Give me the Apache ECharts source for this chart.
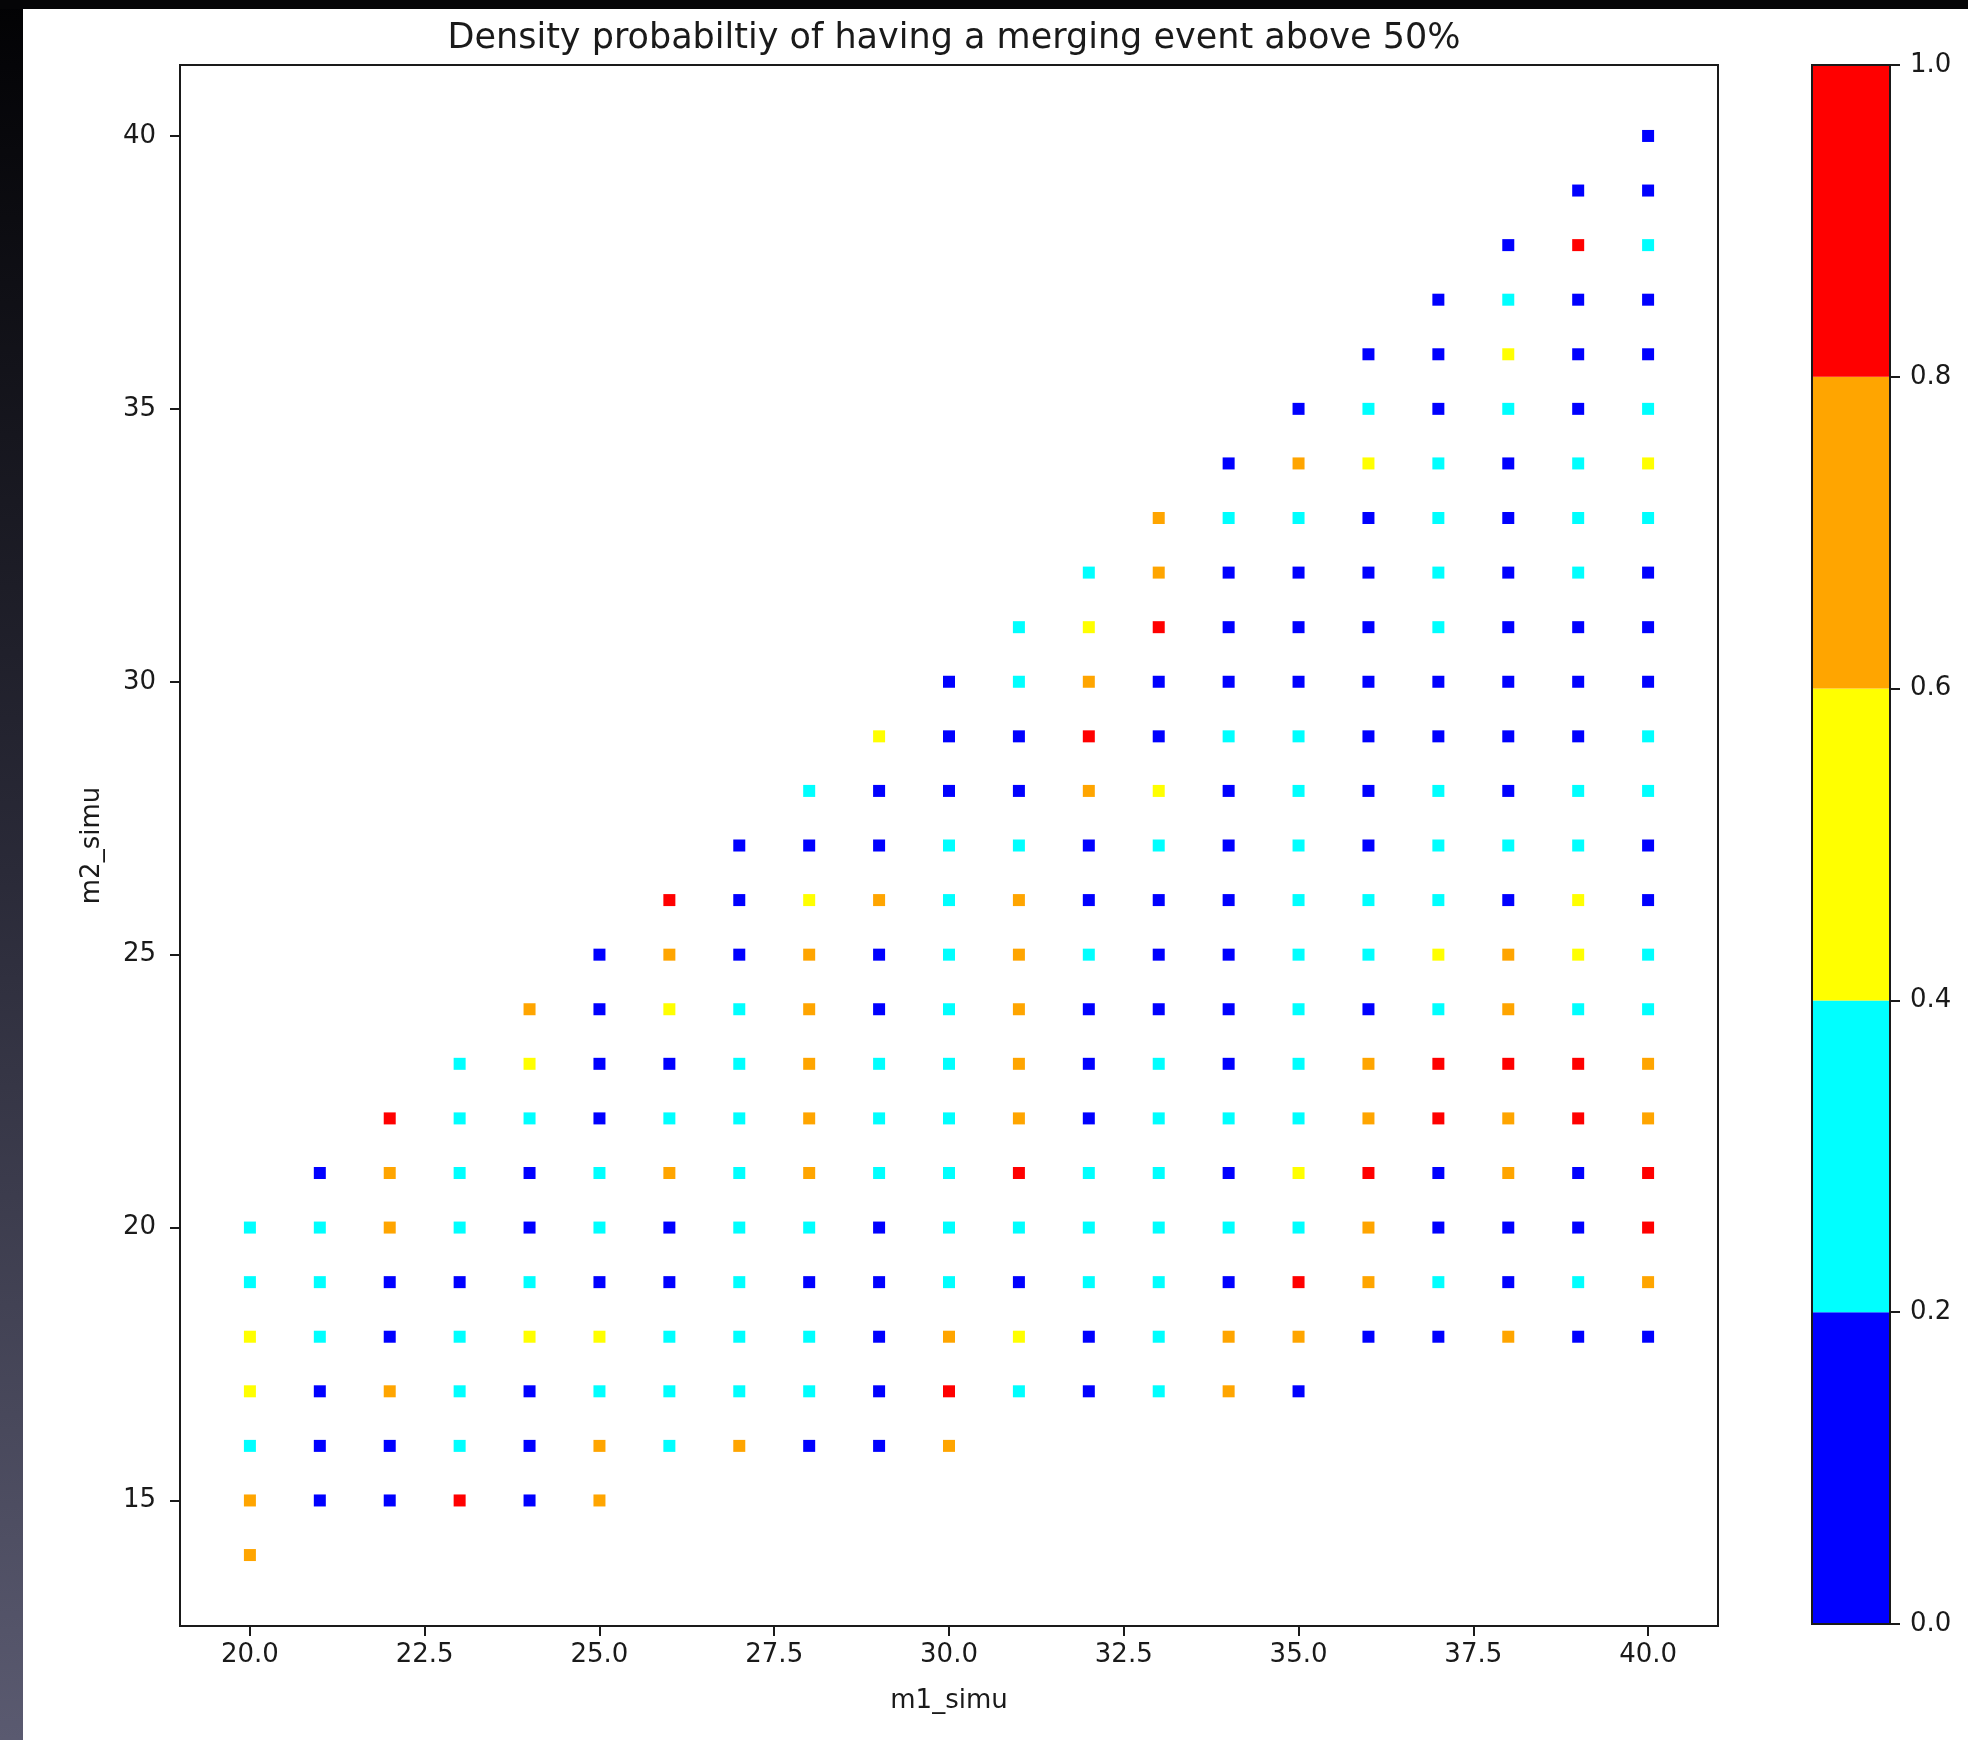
<!DOCTYPE html>
<html>
<head>
	<meta charset="utf-8">
	<title>merging event density</title>
	<style>
		html,body{margin:0;padding:0;background:#fff;}
		#main{width:1968px;height:1740px;}
	</style>
</head>
<body>
<div id="main"></div>

<script type="text/javascript" src="https://cdn.jsdelivr.net/npm/echarts@6/dist/echarts.min.js"></script>
<script type="text/javascript">
	// m1 columns and the first m2 of each column (each column runs up to m2 = m1)
	var m1Values=[20,21,22,23,24,25,26,27,28,29,30,31,32,33,34,35,36,37,38,39,40];
	var m2Start=[14,15,15,15,15,15,16,16,16,16,16,17,17,17,17,17,18,18,18,18,18];

	// probability per column, listed from m2Start upward
	var d20=[0.72,0.70,0.30,0.45,0.50,0.30,0.22];
	var d21=[0.08,0.10,0.10,0.25,0.25,0.30,0.05];
	var d22=[0.10,0.10,0.70,0.05,0.10,0.68,0.70,0.90];
	var d23=[0.85,0.25,0.30,0.30,0.10,0.35,0.35,0.35,0.30];
	var d24=[0.15,0.10,0.10,0.45,0.25,0.05,0.10,0.35,0.50,0.75];
	var d25=[0.75,0.70,0.35,0.50,0.10,0.30,0.35,0.10,0.10,0.10,0.12];
	var d26=[0.35,0.28,0.35,0.10,0.10,0.70,0.30,0.12,0.50,0.70,0.90];
	var d27=[0.70,0.25,0.30,0.30,0.30,0.33,0.30,0.35,0.35,0.05,0.10,0.10];
	var d28=[0.10,0.30,0.35,0.10,0.30,0.65,0.75,0.75,0.72,0.70,0.50,0.10,0.30];
	var d29=[0.05,0.12,0.10,0.10,0.12,0.25,0.30,0.35,0.10,0.12,0.70,0.05,0.12,0.50];
	var d30=[0.70,0.85,0.70,0.22,0.30,0.30,0.33,0.35,0.35,0.35,0.30,0.35,0.12,0.10,0.10];
	var d31=[0.35,0.50,0.10,0.25,0.90,0.75,0.75,0.72,0.68,0.70,0.25,0.10,0.05,0.30,0.35];
	var d32=[0.10,0.12,0.25,0.33,0.35,0.10,0.10,0.10,0.30,0.12,0.12,0.70,0.90,0.70,0.45,0.30];
	var d33=[0.35,0.30,0.33,0.30,0.30,0.35,0.35,0.10,0.10,0.10,0.30,0.50,0.12,0.10,0.90,0.72,0.72];
	var d34=[0.68,0.70,0.08,0.30,0.12,0.32,0.08,0.12,0.12,0.08,0.10,0.10,0.35,0.05,0.12,0.10,0.28,0.12];
	var d35=[0.12,0.75,0.90,0.25,0.48,0.30,0.35,0.30,0.35,0.30,0.35,0.30,0.35,0.05,0.10,0.10,0.35,0.70,0.05];
	var d36=[0.10,0.70,0.72,0.90,0.70,0.65,0.10,0.30,0.30,0.05,0.12,0.12,0.12,0.06,0.10,0.12,0.50,0.30,0.12];
	var d37=[0.12,0.35,0.07,0.12,0.90,0.90,0.25,0.45,0.30,0.30,0.22,0.12,0.10,0.30,0.33,0.35,0.28,0.10,0.10,0.10];
	var d38=[0.70,0.06,0.10,0.70,0.75,0.90,0.70,0.70,0.10,0.30,0.10,0.04,0.04,0.06,0.10,0.06,0.10,0.30,0.50,0.35,0.12];
	var d39=[0.10,0.35,0.07,0.07,0.90,0.90,0.25,0.50,0.50,0.30,0.22,0.12,0.10,0.10,0.30,0.30,0.35,0.10,0.10,0.10,0.90,0.05];
	var d40=[0.10,0.70,0.90,0.90,0.78,0.70,0.22,0.25,0.10,0.05,0.30,0.35,0.06,0.12,0.10,0.30,0.50,0.30,0.12,0.10,0.30,0.05,0.05];
	var density=[d20,d21,d22,d23,d24,d25,d26,d27,d28,d29,d30,d31,d32,d33,d34,d35,d36,d37,d38,d39,d40];

	var xTicks=[20,22.5,25,27.5,30,32.5,35,37.5,40];
	var yTicks=[15,20,25,30,35,40];
	var binEdges=[0,0.2,0.4,0.6,0.8,1.0];
	var binColors=['#0000ff','#00ffff','#ffff00','#ffa500','#ff0000'];

	var font='DejaVu Sans';
	var ink='#1a1a1a';

	var points=[];
	m1Values.forEach(function(m1,i){
		density[i].forEach(function(p,j){
			points.push([m1,m2Start[i]+j,p]);
		});
	});

	var pieces=[];
	var barSeries=[];
	for(var k=0;k<binColors.length;k++){
		pieces.push({gte:binEdges[k],lt:binEdges[k+1],color:binColors[k]});
		barSeries.push({
			type:'bar',
			xAxisIndex:1,
			yAxisIndex:1,
			stack:'cb',
			barWidth:'100%',
			silent:true,
			itemStyle:{color:binColors[k]},
			data:[binEdges[k+1]-binEdges[k]]
		});
	}

	var myChart=echarts.init(document.getElementById('main'));

	var option={
		backgroundColor:'#ffffff',
		animation:false,
		title:{
			text:'Density probabiltiy of having a merging event above 50%',
			left:949,
			top:16,
			textAlign:'center',
			textStyle:{fontFamily:font,fontSize:35,fontWeight:'normal',color:ink}
		},
		graphic:[
			{type:'rect',x:0,y:0,shape:{width:23,height:1740},z:100,
				style:{fill:new echarts.graphic.LinearGradient(0,0,0,1,[
					{offset:0,color:'#020204'},{offset:0.5,color:'#2a2a38'},{offset:1,color:'#5a5a70'}])}},
			{type:'rect',x:0,y:0,shape:{width:1968,height:9},z:100,style:{fill:'#050507'}}
		],
		grid:[
			{left:180,top:65,width:1538,height:1561,show:true,borderColor:ink,borderWidth:2,z:5},
			{left:1812,top:65,width:78,height:1559,show:true,borderColor:ink,borderWidth:2,z:5}
		],
		visualMap:{
			type:'piecewise',
			show:false,
			seriesIndex:0,
			dimension:2,
			pieces:pieces
		},
		xAxis:[
			{
				type:'value',gridIndex:0,min:19,max:41,
				name:'m1_simu',nameLocation:'middle',nameGap:62,
				nameTextStyle:{fontFamily:font,fontSize:26,color:ink},
				axisLine:{show:true,lineStyle:{color:ink,width:2}},
				axisTick:{show:true,length:10,customValues:xTicks,lineStyle:{color:ink,width:2}},
				axisLabel:{customValues:xTicks,margin:16,fontFamily:font,fontSize:26,color:ink,
					formatter:function(v){return v.toFixed(1);}},
				splitLine:{show:false},
				z:5
			},
			{type:'category',gridIndex:1,data:['cb'],show:false}
		],
		yAxis:[
			{
				type:'value',gridIndex:0,min:12.7,max:41.3,
				name:'m2_simu',nameLocation:'middle',nameGap:75,nameRotate:90,
				nameTextStyle:{fontFamily:font,fontSize:26,color:ink},
				axisLine:{show:true,lineStyle:{color:ink,width:2}},
				axisTick:{show:true,length:10,customValues:yTicks,lineStyle:{color:ink,width:2}},
				axisLabel:{customValues:yTicks,margin:24,fontFamily:font,fontSize:26,color:ink},
				splitLine:{show:false},
				z:5
			},
			{
				type:'value',gridIndex:1,min:0,max:1,interval:0.2,position:'right',
				axisLine:{show:true,lineStyle:{color:ink,width:2}},
				axisTick:{show:true,length:10,lineStyle:{color:ink,width:2}},
				axisLabel:{margin:20,fontFamily:font,fontSize:26,color:ink,
					formatter:function(v){return v.toFixed(1);}},
				splitLine:{show:false},
				z:5
			}
		],
		series:[{
			name:'density',
			type:'scatter',
			xAxisIndex:0,
			yAxisIndex:0,
			symbol:'rect',
			symbolSize:12,
			itemStyle:{opacity:1},
			data:points
		}].concat(barSeries)
	};
	myChart.setOption(option);
</script>
</body>
</html>
